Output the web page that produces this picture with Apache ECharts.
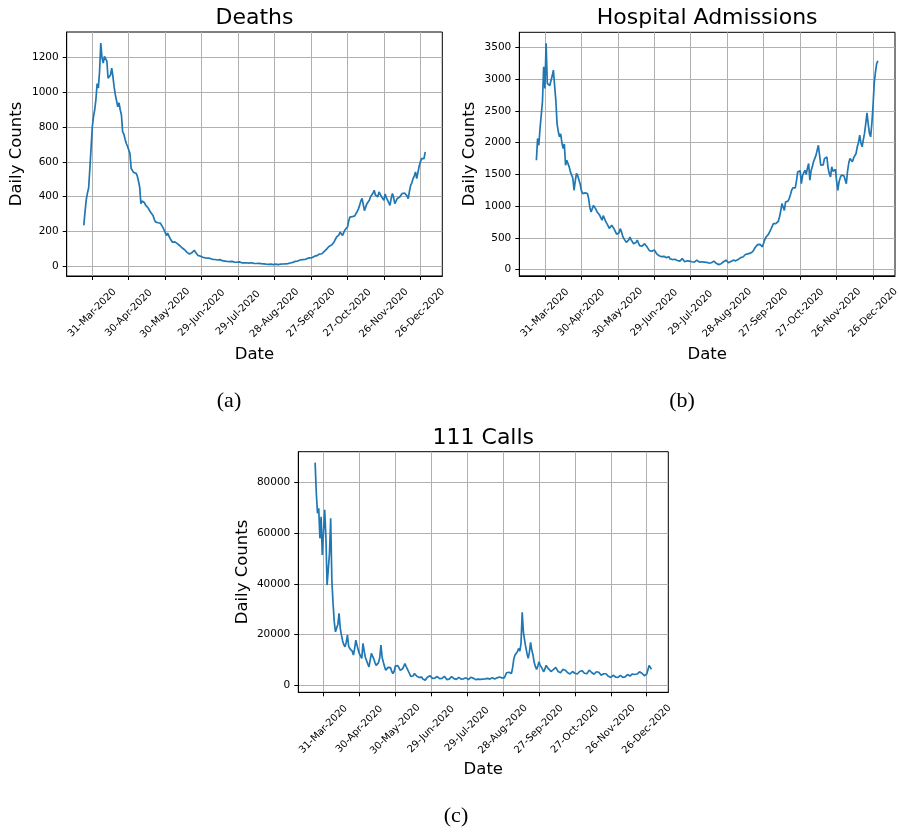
<!DOCTYPE html>
<html>
<head>
<meta charset="utf-8">
<script src="https://cdn.jsdelivr.net/npm/echarts@6/dist/echarts.min.js"></script>
<style>
  html, body { margin: 0; padding: 0; background: #ffffff; }
  #chart { width: 899px; height: 835px; }
</style>
</head>
<body>
<div id="chart"></div>
<script>
// Daily counts, one value per day from the first date below.
const firstDate = '2020-03-24';

const deaths = [
  235, 310, 380, 420, 450, 560, 680, 800, 860, 900,
  960, 1050, 1025, 1120, 1283, 1200, 1168, 1206, 1195, 1180,
  1081, 1090, 1100, 1139, 1090, 1030, 985, 975, 917, 940,
  900, 870, 773, 760, 730, 706, 690, 680, 648, 562,
  560, 540, 533, 535, 520, 490, 456, 360, 375, 370,
  365, 350, 345, 335, 331, 310, 300, 292, 270, 255,
  245, 250, 240, 248, 245, 225, 210, 195, 177, 190,
  175, 160, 150, 138, 145, 140, 135, 130, 125, 118,
  110, 105, 100, 95, 88, 80, 75, 71, 75, 78,
  85, 92, 80, 70, 62, 56, 58, 55, 52, 50,
  48, 52, 47, 44, 45, 42, 40, 42, 39, 38,
  36, 35, 38, 33, 32, 34, 30, 30, 28, 30,
  27, 26, 28, 25, 24, 26, 23, 22, 25, 22,
  20, 22, 19, 18, 20, 22, 18, 22, 20, 18,
  17, 19, 16, 15, 17, 14, 15, 16, 14, 13,
  12, 14, 11, 10, 12, 11, 9, 10, 12, 8,
  9, 10, 12, 11, 13, 12, 14, 13, 15, 17,
  19, 18, 22, 25, 28, 33, 30, 34, 36, 33,
  38, 40, 39, 42, 45, 43, 48, 52, 50, 55,
  58, 56, 61, 66, 70, 75, 72, 80, 86, 92,
  100, 108, 115, 110, 122, 128, 140, 155, 167, 160,
  180, 196, 185, 177, 195, 210, 218, 225, 260, 283,
  278, 285, 292, 290, 300, 315, 330, 350, 375, 390,
  398, 320, 340, 360, 370, 380, 400, 410, 420, 437,
  410, 418, 400, 427, 420, 400, 395, 379, 415, 395,
  380, 370, 350, 390, 418, 395, 360, 375, 390, 400,
  398, 395, 418, 410, 421, 415, 405, 389, 430, 465,
  480, 504, 520, 542, 504, 540, 575, 600, 619, 610,
  619, 657
];

const admissions = [
  1724, 2066, 1960, 2224, 2200, 2644, 3196, 2855, 3565, 2934,
  2910, 2900, 2930, 3050, 3143, 2900, 2670, 2303, 2180, 2092,
  2140, 2000, 1908, 1980, 1645, 1724, 1700, 1620, 1540, 1515,
  1440, 1251, 1400, 1515, 1480, 1460, 1350, 1250, 1199, 1230,
  1210, 1180, 1200, 1120, 980, 908, 930, 1014, 990, 950,
  910, 880, 860, 830, 780, 850, 810, 760, 725, 690,
  650, 620, 700, 680, 640, 600, 560, 541, 580, 646,
  600, 530, 490, 460, 430, 410, 470, 515, 470, 440,
  410, 400, 430, 465, 420, 380, 360, 370, 390, 410,
  380, 360, 330, 300, 285, 290, 285, 310, 290, 250,
  230, 220, 210, 205, 215, 210, 200, 190, 200, 205,
  170, 150, 160, 170, 165, 150, 145, 140, 135, 135,
  175, 150, 125, 130, 140, 145, 135, 130, 125, 130,
  120, 140, 150, 130, 120, 115, 125, 135, 120, 110,
  115, 120, 105, 100, 110, 120, 135, 115, 100, 90,
  80, 78, 95, 110, 125, 140, 150, 130, 110, 115,
  130, 140, 150, 145, 140, 150, 160, 175, 190, 210,
  200, 215, 240, 250, 250, 245, 260, 270, 285, 300,
  350, 380, 395, 420, 400, 370, 360, 420, 480, 515,
  540, 560, 600, 640, 670, 725, 720, 725, 730, 760,
  830, 920, 1041, 1015, 935, 1065, 1050, 1080, 1120, 1180,
  1250, 1290, 1305, 1290, 1400, 1540, 1515, 1560, 1355, 1480,
  1530, 1565, 1500, 1600, 1672, 1410, 1560, 1620, 1700, 1750,
  1800, 1880, 1960, 1800, 1645, 1620, 1650, 1750, 1740, 1775,
  1600, 1515, 1460, 1620, 1550, 1520, 1580, 1400, 1251, 1380,
  1450, 1490, 1500, 1480, 1450, 1355, 1550, 1680, 1750, 1730,
  1700, 1760, 1780, 1830, 1935, 2000, 2120, 2000, 1935, 2050,
  2150, 2300, 2470, 2300, 2150, 2093, 2300, 2590, 2950, 3117,
  3250, 3290
];

const calls111 = [
  87700, 75650, 67800, 69700, 57900, 66400, 51350, 60500, 69100, 58500,
  39500, 40000, 52000, 65800, 41000, 32300, 25000, 21100, 20500, 24000,
  28400, 22500, 19800, 17500, 16000, 15200, 17000, 19800, 15500, 14500,
  15000, 13500, 11950, 14500, 17850, 17500, 14000, 12500, 11500, 10640,
  16550, 13500, 11000, 10500, 8500, 7330, 10000, 12600, 11500, 10500,
  9000, 7900, 8500, 9000, 11000, 15900, 11000, 9100, 7500, 6030,
  6500, 7100, 7500, 7000, 5500, 4700, 5500, 7650, 7500, 7800,
  7000, 6000, 5500, 6500, 7500, 8550, 7500, 6500, 6000, 4500,
  3500, 3150, 3800, 4700, 4200, 3600, 3200, 3150, 3600, 3300,
  2500, 2300, 2100, 2600, 3300, 3700, 3800, 3300, 2800, 2500,
  2900, 3400, 3500, 3200, 2700, 2400, 2800, 3500, 3600, 3000,
  2300, 2100, 2500, 3200, 3500, 3300, 2700, 2300, 2400, 3000,
  3200, 3000, 2500, 2300, 2600, 3100, 3000, 2700, 2300, 2500,
  3200, 3300, 2900, 2400, 2300, 2700, 2500, 2100, 2400, 2700,
  2500, 2300, 2600, 2900, 2800, 2600, 2500, 2800, 3000, 2700,
  2500, 2500, 3000, 3500, 3300, 3100, 3000, 2900, 3000, 4000,
  5000, 5370, 5200, 4800, 4700, 7000, 10500, 11950, 12500, 13250,
  14570, 13500, 16500, 28770, 21000, 17850, 15000, 12600, 10640, 13000,
  16940, 14000, 12000, 9100, 7500, 6300, 7500, 9300, 8000, 7200,
  6800, 5370, 6500, 7900, 7200, 6500, 6000, 5500, 5800, 6200,
  6600, 7100, 6300, 5500, 5200, 5000, 5600, 6300, 6700, 6000,
  5300, 5000, 4800, 4500, 5000, 5500, 5200, 4800, 4600, 4500,
  4800, 5500, 6030, 5800, 5200, 4800, 4500, 4600, 5300, 6030,
  5700, 5100, 4600, 4400, 4800, 5400, 5700, 5200, 4500, 4000,
  4100, 4600, 5000, 4600, 4000, 3600, 3300, 3150, 3600, 4000,
  3700, 3300, 3000, 3200, 3800, 4000, 3600, 3200, 3100, 3400,
  4000, 4300, 3900, 3700, 4200, 4500, 4500, 4300, 4200, 4500,
  5000, 5370, 5200, 4800, 4300, 3800, 3150, 4500, 6030, 7900,
  7200, 6300
];

// Date ticks, every 30 days
const tickDates = [
  '2020-03-31', '2020-04-30', '2020-05-30', '2020-06-29', '2020-07-29',
  '2020-08-28', '2020-09-27', '2020-10-27', '2020-11-26', '2020-12-26'
];
const deathTicks = [0, 200, 400, 600, 800, 1000, 1200];
const admissionTicks = [0, 500, 1000, 1500, 2000, 2500, 3000, 3500];
const callTicks = [0, 20000, 40000, 60000, 80000];

const panelTitles = ['Deaths', 'Hospital Admissions', '111 Calls'];
const captions = ['(a)', '(b)', '(c)'];

// ---- helpers ----
const DAY0 = Date.UTC(2020, 2, 1);
const MS_DAY = 86400000;
const MONTHS = ['Jan','Feb','Mar','Apr','May','Jun','Jul','Aug','Sep','Oct','Nov','Dec'];
function dayNum(iso) {
  const p = iso.split('-').map(Number);
  return Math.round((Date.UTC(p[0], p[1] - 1, p[2]) - DAY0) / MS_DAY);
}
function dayLabel(day) {
  const d = new Date(DAY0 + Math.round(day) * MS_DAY);
  return String(d.getUTCDate()).padStart(2, '0') + '-' + MONTHS[d.getUTCMonth()] + '-' + d.getUTCFullYear();
}
const tickDays = tickDates.map(dayNum);
const startDay = dayNum(firstDate);
function toPoints(values) { return values.map((v, i) => [startDay + i, v]); }

const FONT = 'DejaVu Sans';
const INK = '#000000';
const GRID_COLOR = '#b0b0b0';
const LINE_COLOR = '#1f77b4';

// plot boxes in pixels
const boxes = [
  { left: 66.7, top: 32, width: 375.6, height: 244 },
  { left: 519.3, top: 32.3, width: 375.7, height: 243.5 },
  { left: 298.3, top: 451.7, width: 370, height: 240.6 }
];
const yRanges = [
  { min: -56, max: 1347, ticks: deathTicks },
  { min: -96, max: 3739, ticks: admissionTicks },
  { min: -2700, max: 92000, ticks: callTicks }
];
const seriesValues = [deaths, admissions, calls111];

// x-range with a 5% margin either side of the data
const lastDay = startDay + deaths.length - 1;
const pad = (lastDay - startDay) * 0.05;
const xMin = startDay - pad, xMax = lastDay + pad;

const grids = boxes.map(b => ({
  left: b.left, top: b.top, width: b.width, height: b.height,
  show: true, borderColor: INK, borderWidth: 1, backgroundColor: 'transparent',
  outerBoundsMode: 'none', containLabel: false
}));

const xAxes = boxes.map((b, i) => ({
  type: 'value', gridIndex: i, min: xMin, max: xMax,
  axisLine: { show: true, onZero: false, lineStyle: { color: INK, width: 1 } },
  axisTick: { show: true, length: 4, customValues: tickDays, lineStyle: { color: INK, width: 1 } },
  axisLabel: {
    customValues: tickDays, rotate: 45, align: 'center', verticalAlign: 'middle',
    margin: 37, fontFamily: FONT, fontSize: 10, color: INK,
    formatter: v => dayLabel(v)
  },
  splitLine: { show: true, lineStyle: { color: GRID_COLOR, width: 1 } }
}));

const yAxes = yRanges.map((r, i) => ({
  type: 'value', gridIndex: i, min: r.min, max: r.max,
  axisLine: { show: true, onZero: false, lineStyle: { color: INK, width: 1 } },
  axisTick: { show: true, length: 4, customValues: r.ticks, lineStyle: { color: INK, width: 1 } },
  axisLabel: {
    customValues: r.ticks, margin: 8, fontFamily: FONT, fontSize: 10.5, color: INK,
    formatter: v => String(Math.round(v))
  },
  splitLine: { show: true, lineStyle: { color: GRID_COLOR, width: 1 } }
}));

const series = seriesValues.map((vals, i) => ({
  type: 'line', xAxisIndex: i, yAxisIndex: i,
  data: toPoints(vals), showSymbol: false, symbol: 'none',
  lineStyle: { color: LINE_COLOR, width: 1.7 }, clip: true, z: 3
}));

// titles, axis names and sub-figure captions
const graphics = [];
const titleY = [18, 18, 438];
const dateY = [355, 355, 770];
const yNameX = [17, 470, 243];
const captionPos = [[229, 401], [682, 401], [456, 816]];
boxes.forEach((b, i) => {
  const cx = b.left + b.width / 2;
  const cy = b.top + b.height / 2;
  graphics.push({ type: 'text', x: cx, y: titleY[i], style: {
    text: panelTitles[i], font: '22px "DejaVu Sans"', fill: INK, align: 'center', verticalAlign: 'middle' } });
  graphics.push({ type: 'text', x: cx, y: dateY[i], style: {
    text: 'Date', font: '16.5px "DejaVu Sans"', fill: INK, align: 'center', verticalAlign: 'middle' } });
  graphics.push({ type: 'text', x: yNameX[i], y: cy, rotation: Math.PI / 2, style: {
    text: 'Daily Counts', font: '16.5px "DejaVu Sans"', fill: INK, align: 'center', verticalAlign: 'middle' } });
  graphics.push({ type: 'text', x: captionPos[i][0], y: captionPos[i][1], style: {
    text: captions[i], font: '22px "Liberation Serif"', fill: INK, align: 'center', verticalAlign: 'middle' } });
});

const chart = echarts.init(document.getElementById('chart'), null, { renderer: 'canvas' });
chart.setOption({
  animation: false,
  backgroundColor: '#ffffff',
  grid: grids,
  xAxis: xAxes,
  yAxis: yAxes,
  series: series,
  graphic: graphics
});
</script>
</body>
</html>
